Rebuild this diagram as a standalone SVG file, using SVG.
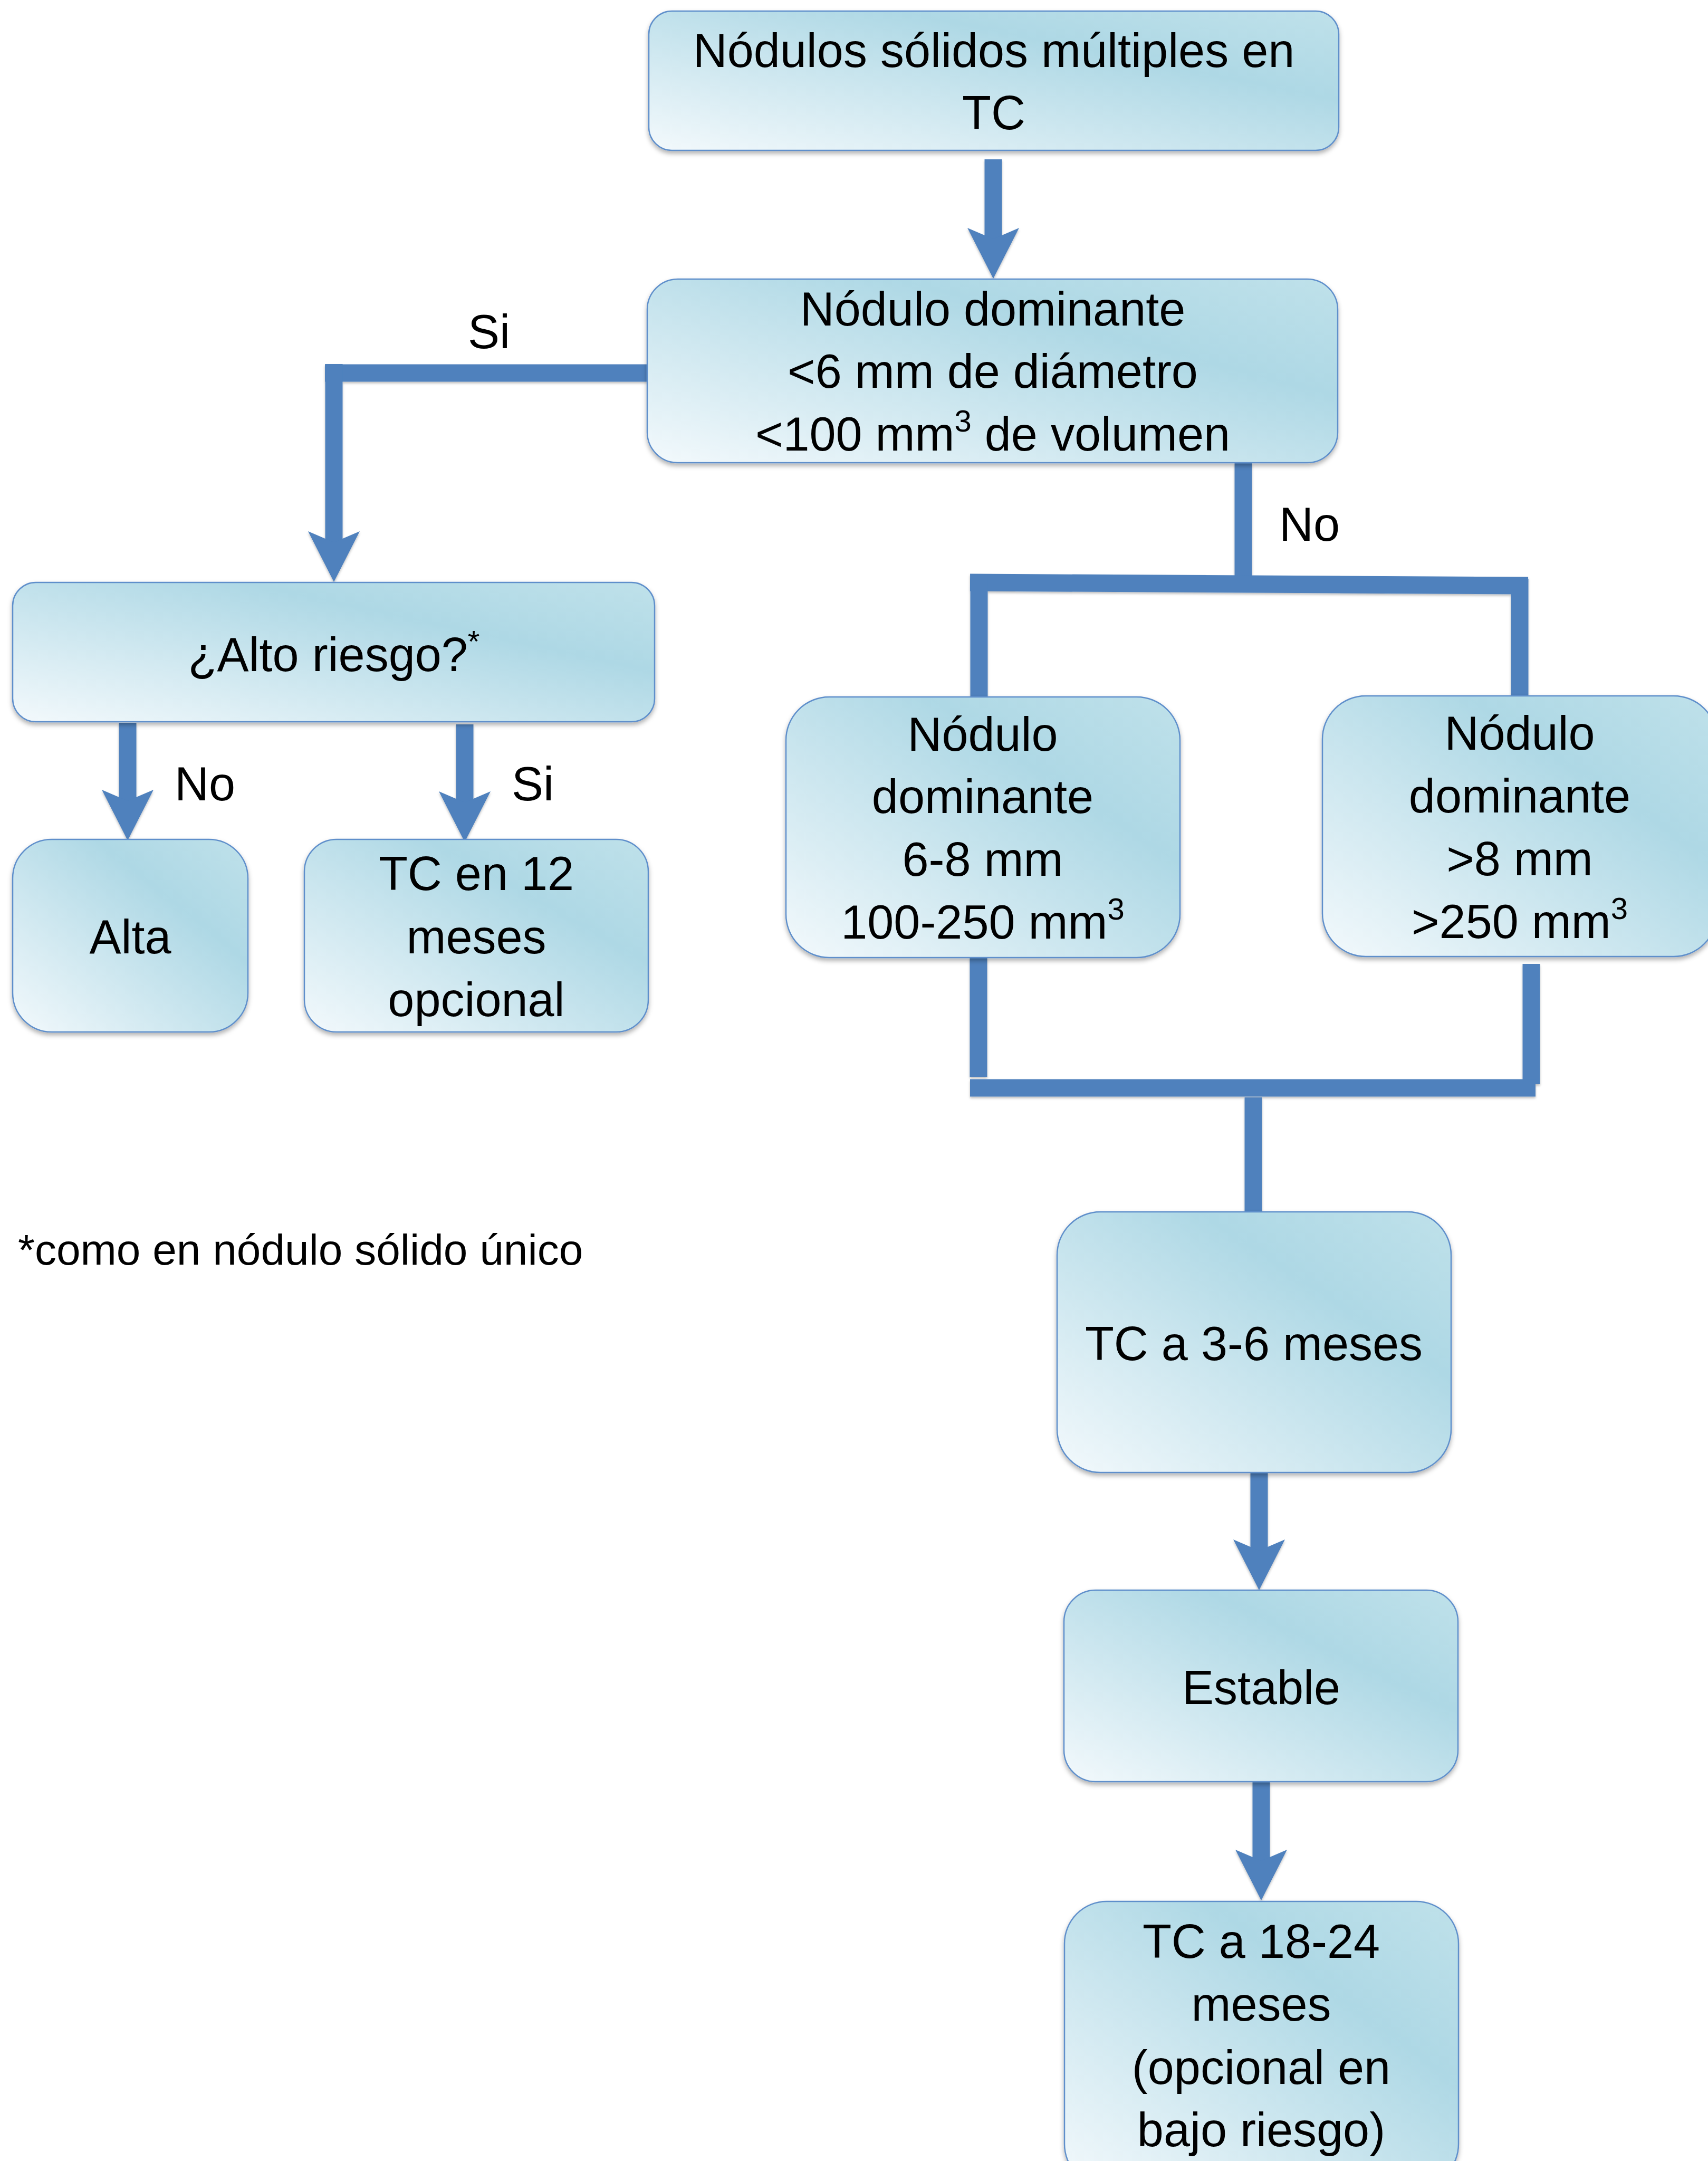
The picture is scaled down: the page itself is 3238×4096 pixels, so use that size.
<svg xmlns="http://www.w3.org/2000/svg" width="3238" height="4096" viewBox="0 0 3238 4096">
<defs>
<linearGradient id="fillg" x1="0" y1="1" x2="1" y2="0">
<stop offset="0" stop-color="#f3f9fc"/>
<stop offset="0.68" stop-color="#aed8e5"/>
<stop offset="1" stop-color="#bfe1ea"/>
</linearGradient>
<filter id="sh" x="-5%" y="-5%" width="110%" height="115%">
<feDropShadow dx="0" dy="5" stdDeviation="4" flood-color="#000" flood-opacity="0.3"/>
</filter>
<filter id="shc" x="-20%" y="-5%" width="140%" height="115%">
<feDropShadow dx="0" dy="3" stdDeviation="2" flood-color="#000" flood-opacity="0.25"/>
</filter>
<marker id="head" markerUnits="userSpaceOnUse" orient="auto" viewBox="0 -50 100 100" markerWidth="100" markerHeight="100" refX="21" refY="0">
<path d="M0,-49 L96,0 L0,49 L21,0 Z" fill="#4f81bd"/>
</marker>
</defs>
<style>
.box{fill:url(#fillg);stroke:#5f8fcb;stroke-width:2.5;filter:url(#sh)}
.t{font-family:"Liberation Sans",Arial,sans-serif;font-size:90px;fill:#000;text-anchor:middle}
.lbl{font-family:"Liberation Sans",Arial,sans-serif;font-size:90px;fill:#000}
.sup{font-size:58px;baseline-shift:62%}
.c{stroke:#4f81bd;stroke-width:33;fill:none;stroke-linecap:butt}
.a{marker-end:url(#head)}
</style>
<rect width="3238" height="4096" fill="#fff"/>

<g id="connectors" filter="url(#shc)">
<line class="c a" x1="1883" y1="302" x2="1883" y2="453"/>
<line class="c" x1="1229" y1="707" x2="616" y2="707"/>
<line class="c a" x1="633" y1="690" x2="633" y2="1028"/>
<line class="c a" x1="242" y1="1370" x2="242" y2="1518"/>
<line class="c a" x1="881" y1="1373" x2="881" y2="1521"/>
<line class="c" x1="2357" y1="878" x2="2357" y2="1105"/>
<line class="c" x1="1839" y1="1104" x2="2897" y2="1110"/>
<line class="c" x1="1856" y1="1095" x2="1856" y2="1321"/>
<line class="c" x1="2881" y1="1097" x2="2881" y2="1323"/>
<line class="c" x1="1855" y1="1814" x2="1855" y2="2041"/>
<line class="c" x1="2903" y1="1827" x2="2903" y2="2055"/>
<line class="c" x1="1839" y1="2062" x2="2911" y2="2062"/>
<line class="c" x1="2376" y1="2080" x2="2376" y2="2308"/>
<line class="c a" x1="2387" y1="2791" x2="2387" y2="2939"/>
<line class="c a" x1="2391" y1="3377" x2="2391" y2="3527"/>
</g>

<g id="labels">
<text class="lbl" x="887" y="660">Si</text>
<text class="lbl" x="2425" y="1025">No</text>
<text class="lbl" x="331" y="1517">No</text>
<text class="lbl" x="970" y="1517">Si</text>
</g>

<g id="n1">
<rect class="box" x="1230" y="21" width="1308" height="264" rx="44" ry="44"/>
<text class="t" x="1884" y="127">Nódulos sólidos múltiples en</text>
<text class="t" x="1884" y="245">TC</text>
</g>

<g id="n2">
<rect class="box" x="1227" y="529" width="1309" height="348" rx="58" ry="58"/>
<text class="t" x="1882" y="617">Nódulo dominante</text>
<text class="t" x="1882" y="735">&lt;6 mm de diámetro</text>
<text class="t" x="1882" y="854">&lt;100 mm<tspan class="sup">3</tspan> de volumen</text>
</g>

<g id="n3">
<rect class="box" x="24" y="1104" width="1217" height="264" rx="44" ry="44"/>
<text class="t" x="633" y="1272">¿Alto riesgo?<tspan class="sup">*</tspan></text>
</g>

<g id="n4">
<rect class="box" x="24" y="1591" width="446" height="365" rx="74" ry="74"/>
<text class="t" x="247" y="1807">Alta</text>
</g>

<g id="n5">
<rect class="box" x="577" y="1591" width="652" height="365" rx="61" ry="61"/>
<text class="t" x="903" y="1687">TC en 12</text>
<text class="t" x="903" y="1807">meses</text>
<text class="t" x="903" y="1926">opcional</text>
</g>

<g id="n6">
<rect class="box" x="1490" y="1321" width="747" height="494" rx="82" ry="82"/>
<text class="t" x="1863" y="1423">Nódulo</text>
<text class="t" x="1863" y="1541">dominante</text>
<text class="t" x="1863" y="1660">6-8 mm</text>
<text class="t" x="1863" y="1779">100-250 mm<tspan class="sup">3</tspan></text>
</g>

<g id="n7">
<rect class="box" x="2507" y="1319" width="748" height="494" rx="82" ry="82"/>
<text class="t" x="2881" y="1421">Nódulo</text>
<text class="t" x="2881" y="1540">dominante</text>
<text class="t" x="2881" y="1659">&gt;8 mm</text>
<text class="t" x="2881" y="1778">&gt;250 mm<tspan class="sup">3</tspan></text>
</g>

<g id="n8">
<rect class="box" x="2004" y="2297" width="747" height="494" rx="82" ry="82"/>
<text class="t" x="2377" y="2578">TC a 3-6 meses</text>
</g>

<g id="n9">
<rect class="box" x="2017" y="3014" width="747" height="363" rx="60" ry="60"/>
<text class="t" x="2391" y="3230">Estable</text>
</g>

<g id="n10">
<rect class="box" x="2018" y="3604" width="747" height="540" rx="80" ry="80"/>
<text class="t" x="2391" y="3711">TC a 18-24</text>
<text class="t" x="2391" y="3830">meses</text>
<text class="t" x="2391" y="3950">(opcional en</text>
<text class="t" x="2391" y="4068">bajo riesgo)</text>
</g>

<g id="footnote">
<text class="lbl" x="34" y="2397" style="font-size:82px">*como en nódulo sólido único</text>
</g>
</svg>
